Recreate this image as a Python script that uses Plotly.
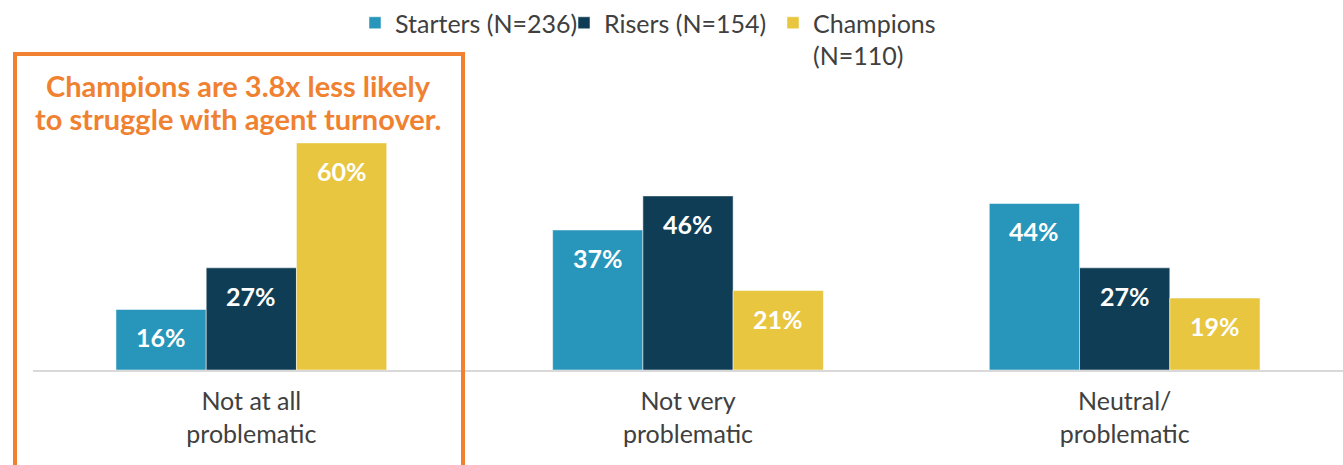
import plotly.graph_objects as go

categories = ["Not at all<br>problematic", "Not very<br>problematic", "Neutral/<br>problematic"]
series_names = ["Starters (N=236)", "Risers (N=154)", "Champions<br>(N=110)"]
starters = [16, 37, 44]
risers = [27, 46, 27]
champions = [60, 21, 19]
callout_lines = ["Champions are 3.8x less likely", "to struggle with agent turnover."]

colors = ["#2896BA", "#103D56", "#E8C640"]
orange = "#EF8130"
font_family = "Lato, 'Noto Sans', sans-serif"

W, H = 1343, 465
ml, mr, mt, mb = 33, 0, 124, 95
bargap = 0.38
plot_w = W - ml - mr
plot_h = H - mt - mb
bar_px = plot_w / len(categories) * (1 - bargap) / 3
legend_ids = ["legend", "legend2", "legend3"]
legend_x = [355, 564, 773]  # pixel left edge of each legend box

fig = go.Figure()
all_series = [starters, risers, champions]
for i, (name, vals) in enumerate(zip(series_names, all_series)):
    fig.add_trace(go.Bar(
        x=categories, y=vals, name=name, legend=legend_ids[i],
        marker=dict(color=colors[i], line=dict(color="white", width=0.5)),
        hoverinfo="skip",
    ))
    for cat, v in zip(categories, vals):
        fig.add_annotation(
            x=cat, y=v, xref="x", yref="y",
            text=f"<b>{v}%</b>", showarrow=False,
            xshift=(i - 1) * bar_px, yshift=-28,
            font=dict(family=font_family, size=25, color="white"),
        )

# callout box and text
fig.add_shape(type="rect", xref="paper", yref="paper",
              x0=(15 - ml) / plot_w, x1=(463 - ml) / plot_w,
              y0=-0.6, y1=(H - mb - 54) / plot_h,
              line=dict(color=orange, width=4))
for line, ypx in zip(callout_lines, [85, 118]):
    fig.add_annotation(
        x=(238 - ml) / plot_w, y=(H - mb - ypx) / plot_h, xref="paper", yref="paper",
        xanchor="center", yanchor="middle",
        text=f"<b>{line}</b>", showarrow=False,
        font=dict(family=font_family, size=29, color=orange),
    )

legend_style = dict(orientation="h", xref="container", yref="container", y=1,
                    xanchor="left", yanchor="top", valign="top",
                    bgcolor="rgba(0,0,0,0)",
                    font=dict(size=25, color="#404040"), itemwidth=30)

fig.update_layout(
    width=W, height=H,
    margin=dict(l=ml, r=mr, t=mt, b=mb, autoexpand=False),
    paper_bgcolor="white", plot_bgcolor="white",
    barmode="group", bargap=bargap, bargroupgap=0,
    font=dict(family=font_family, size=25, color="#404040"),
    legend=dict(x=legend_x[0] / W, **legend_style),
    legend2=dict(x=legend_x[1] / W, **legend_style),
    legend3=dict(x=legend_x[2] / W, **legend_style),
    showlegend=True,
)
fig.update_xaxes(showline=True, linecolor="#D9D9D9", linewidth=2,
                 ticks="outside", ticklen=8, tickcolor="rgba(0,0,0,0)",
                 showgrid=False, tickfont=dict(size=25, color="#404040"))
fig.update_yaxes(range=[0, 65], visible=False, showgrid=False)

fig.write_html("out.html", config={"displayModeBar": False},
               post_script="document.body.style.margin='0';")
